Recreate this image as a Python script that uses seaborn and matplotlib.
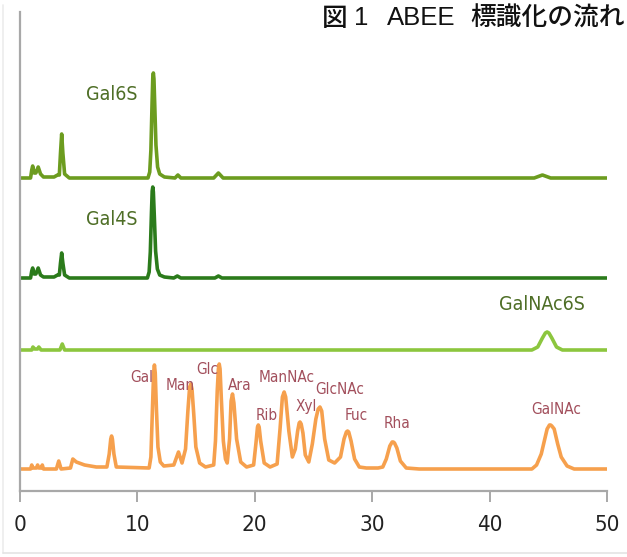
import matplotlib
matplotlib.use("Agg")
import matplotlib.pyplot as plt
import seaborn as sns
import pandas as pd
from matplotlib.lines import Line2D

# ---------------- data (signal, above each baseline) ----------------
samples = ["Gal6S", "Gal4S", "GalNAc6S", "Standards"]

gal6s_t = [0, 0.9, 1.0, 1.08, 1.2, 1.35, 1.55, 1.75, 2.0, 2.9, 3.2, 3.35, 3.45, 3.55, 3.65, 3.8, 4.2,
           10.9, 11.05, 11.15, 11.25, 11.31, 11.36, 11.41, 11.48, 11.58, 11.72, 11.9, 12.3,
           13.2, 13.45, 13.7, 16.5, 16.9, 17.3, 43.8, 44.5, 45.2, 50]
gal6s_s = [0, 0, 8, 12, 5, 5, 11, 4, 1, 1, 3, 3, 25, 44, 25, 4, 0,
           0, 6, 28, 75, 100, 105, 99, 72, 33, 11, 4, 1,
           0, 3, 0, 0, 5, 0, 0, 3, 0, 0]

gal4s_t = [0, 0.9, 1.0, 1.08, 1.2, 1.35, 1.55, 1.75, 2.0, 2.9, 3.2, 3.35, 3.45, 3.55, 3.65, 3.8, 4.2,
           10.85, 11.0, 11.1, 11.2, 11.26, 11.31, 11.36, 11.44, 11.55, 11.7, 11.9, 12.3,
           13.1, 13.4, 13.7, 16.6, 16.9, 17.2, 50]
gal4s_s = [0, 0, 7, 10, 4, 4, 10, 3, 1, 1, 3, 3, 15, 25, 15, 3, 0,
           0, 6, 26, 66, 87, 91, 86, 62, 27, 9, 3, 1,
           0, 2, 0, 0, 2, 0, 0]

galnac6s_t = [0, 1.0, 1.1, 1.25, 1.5, 1.6, 1.8, 3.4, 3.6, 3.8, 43.6, 44.1, 44.5, 44.75, 44.9, 45.05, 45.3, 45.7, 46.2, 50]
galnac6s_s = [0, 0, 3, 1, 1, 3, 0, 0, 6, 0, 0, 3, 12, 17, 18, 17, 12, 3, 0, 0]

std_t = [0, 0.9, 1.0, 1.1, 1.4, 1.5, 1.6, 1.8, 1.9, 2.0, 3.1, 3.3, 3.5, 4.3, 4.5, 4.8, 5.5, 6.5,
         7.4, 7.6, 7.73, 7.8, 7.87, 8.0, 8.2, 11.0, 11.15, 11.27, 11.38, 11.45, 11.52, 11.62, 11.75, 11.95, 12.25,
         13.1, 13.5, 13.8, 14.1, 14.3, 14.45, 14.55, 14.65, 14.8, 14.98, 15.3, 15.8,
         16.5, 16.65, 16.8, 16.9, 16.97, 17.04, 17.15, 17.32, 17.5, 17.65, 17.85, 17.98, 18.1, 18.22, 18.45, 18.8, 19.3,
         19.9, 20.1, 20.23, 20.3, 20.37, 20.5, 20.8, 21.3, 21.9, 22.15, 22.35, 22.5, 22.63, 22.9, 23.2,
         23.45, 23.65, 23.78, 23.85, 23.95, 24.1, 24.3, 24.6, 24.9, 25.2, 25.4, 25.55, 25.7, 25.95, 26.3, 26.8,
         27.3, 27.6, 27.8, 27.9, 28.0, 28.2, 28.5, 28.9, 29.5, 30.5, 30.9, 31.2, 31.5, 31.7, 31.8, 31.9, 32.1, 32.4, 32.9, 34.0,
         43.6, 44.0, 44.4, 44.6, 44.9, 45.1, 45.2, 45.3, 45.5, 45.8, 46.1, 46.6, 47.2, 50]
std_s = [0, 0, 4, 1, 1, 4, 1, 1, 4, 0, 0, 8, 0, 1, 10, 7, 4, 2,
         2, 15, 30, 33, 30, 15, 2, 1, 12, 55, 96, 104, 96, 60, 22, 7, 3,
         4, 17, 6, 20, 58, 82, 85, 80, 55, 22, 6, 2,
         4, 28, 78, 100, 105, 100, 70, 28, 10, 6, 30, 68, 75, 66, 30, 7, 2,
         4, 26, 42, 44, 42, 28, 6, 2, 5, 40, 72, 77, 72, 38, 12,
         20, 38, 46, 47, 45, 36, 14, 7, 25, 50, 60, 62, 58, 30, 9, 6,
         12, 30, 37, 38, 37, 28, 10, 2, 1, 1, 2, 10, 23, 27, 27, 26, 21, 8, 1, 0,
         0, 4, 15, 25, 40, 44, 44, 43, 40, 25, 12, 3, 0, 0]

peak_names = ["Gal", "Man", "Glc", "Ara", "Rib", "ManNAc", "Xyl", "GlcNAc", "Fuc", "Rha", "GalNAc"]
x_ticks = [0, 10, 20, 30, 40, 50]
title_parts = ["図", "1", "ABEE", "標識化の流れ"]

# ---------------- layout / style ----------------
baselines = {"Gal6S": 313, "Gal4S": 213, "GalNAc6S": 141, "Standards": 22}
palette = {"Gal6S": "#6c9c1f", "Gal4S": "#2b7b1b", "GalNAc6S": "#8cc63e", "Standards": "#f6a04d"}
peak_label_pos = [(10.39, 113), (13.63, 105), (15.93, 121), (18.74, 105), (21.04, 75), (22.74, 114),
                  (24.36, 85), (27.26, 102), (28.62, 75), (32.11, 67), (45.66, 82)]
sample_label_pos = {"Gal6S": (7.84, 397), "Gal4S": (7.84, 272), "GalNAc6S": (44.46, 187)}
title_x_px = [322, 354, 387, 470]

frames = []
for name, t, s in [("Gal6S", gal6s_t, gal6s_s), ("Gal4S", gal4s_t, gal4s_s),
                   ("GalNAc6S", galnac6s_t, galnac6s_s), ("Standards", std_t, std_s)]:
    df = pd.DataFrame({"time": t, "signal": s})
    df["sample"] = name
    df["level"] = df["signal"] + baselines[name]
    frames.append(df)
data = pd.concat(frames, ignore_index=True)

sns.set_theme(style="white")
plt.rcParams["font.family"] = ["DejaVu Sans"]
plt.rcParams["font.stretch"] = "condensed"

W, H = 627, 557
fig = plt.figure(figsize=(W / 100, H / 100), dpi=100)
fig.patch.set_facecolor("white")
ax = fig.add_axes([20 / W, (H - 491) / H, 587 / W, 479 / H])

sns.lineplot(data=data, x="time", y="level", hue="sample", palette=palette,
             linewidth=2.6, legend=False, sort=False, estimator=None, ax=ax)
for ln in ax.lines:
    ln.set_solid_joinstyle("round")
    ln.set_solid_capstyle("round")

ax.set_xlim(0, 50)
ax.set_ylim(0, 479)
ax.set_xticks(x_ticks)
ax.set_xticklabels([str(v) for v in x_ticks])
ax.set_yticks([])
ax.set_xlabel("")
ax.set_ylabel("")
for side in ["top", "right"]:
    ax.spines[side].set_visible(False)
for side in ["left", "bottom"]:
    ax.spines[side].set_color("#a8a8a8")
    ax.spines[side].set_linewidth(1.6)
ax.tick_params(axis="x", direction="out", length=8, width=1.4, color="#a8a8a8",
               pad=9, labelsize=16, labelcolor="#222222", bottom=True)
for lab in ax.get_xticklabels():
    lab.set_fontstretch("condensed")

for name, (x, y) in sample_label_pos.items():
    ax.text(x, y, name, ha="center", va="center", fontsize=14, color="#4e6e26",
            fontstretch="condensed")

for name, (x, y) in zip(peak_names, peak_label_pos):
    ax.text(x, y, name, ha="center", va="center", fontsize=11, color="#a24f5c",
            fontstretch="condensed")

for part, xp in zip(title_parts, title_x_px):
    fam = ["Liberation Sans", "DejaVu Sans"] if part.isascii() else ["Noto Sans CJK JP", "DejaVu Sans"]
    fig.text(xp / W, 1 - 18 / H, part, ha="left", va="center", fontsize=18.5,
             fontweight="medium", color="#111111", family=fam, fontstretch="normal")

# faint frame lines of the original screenshot
fig.add_artist(Line2D([3 / W, 3 / W], [1 - 5 / H, 1 - 553 / H], color="#ececec", lw=1.2,
                      transform=fig.transFigure))
fig.add_artist(Line2D([3 / W, 1], [1 - 553 / H, 1 - 553 / H], color="#e4e4e4", lw=1.2,
                      transform=fig.transFigure))

fig.savefig("out.png", dpi=100, facecolor="white")
